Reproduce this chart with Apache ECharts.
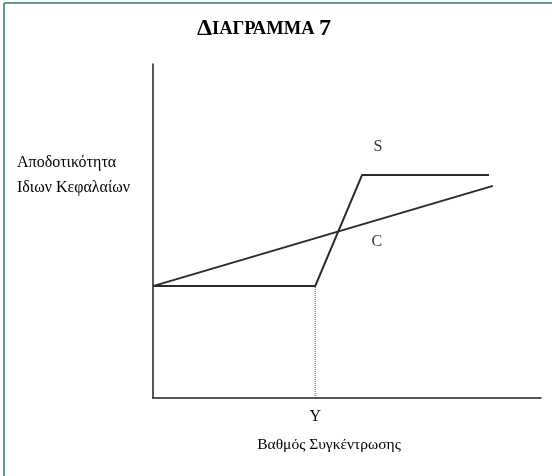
<!DOCTYPE html>
<html>
<head>
<meta charset="utf-8">
<script src="https://cdn.jsdelivr.net/npm/echarts@6/dist/echarts.min.js"></script>
<style>
html,body{margin:0;padding:0;background:#fff;}
#chart{width:552px;height:476px;}
</style>
</head>
<body>
<div id="chart"></div>
<script>
// Curve S (stepped) and line C, in abstract units (0-100)
var sX = [0, 41.8, 53.9, 86.6];
var sY = [33.5, 33.5, 66.8, 66.8];
var cX = [0, 87.6];
var cY = [33.5, 63.5];
// Marker Y on the horizontal axis
var markYX = 41.8;
var markYLabel = 'Y';
// Curve labels
var curveLabels = ['S', 'C'];
var curveLabelX = [58, 57.7];
var curveLabelY = [75.2, 46.8];

var FONT = '"Liberation Serif", "DejaVu Serif", serif';

function pairs(xs, ys) { return xs.map(function (x, i) { return [x, ys[i]]; }); }

var chart = echarts.init(document.getElementById('chart'));
chart.setOption({
  backgroundColor: '#fff',
  animation: false,
  grid: { left: 153, top: 64, width: 388, height: 334, containLabel: false },
  xAxis: {
    type: 'value', min: 0, max: 100,
    axisLine: { show: true, lineStyle: { color: '#222', width: 1.5 } },
    axisTick: { show: false },
    splitLine: { show: false },
    axisLabel: {
      show: true, customValues: [markYX], margin: 11,
      formatter: function () { return markYLabel; },
      fontFamily: FONT, fontSize: 16, color: '#000'
    }
  },
  yAxis: {
    type: 'value', min: 0, max: 100,
    axisLine: { show: true, lineStyle: { color: '#222', width: 1.5 } },
    axisTick: { show: false },
    splitLine: { show: false },
    axisLabel: { show: false }
  },
  series: [
    {
      type: 'line', data: pairs(sX, sY), symbol: 'none',
      lineStyle: { color: '#2a2a2a', width: 2 }
    },
    {
      type: 'line', data: pairs(cX, cY), symbol: 'none',
      lineStyle: { color: '#2a2a2a', width: 2 }
    },
    {
      type: 'line', data: [[markYX, 0], [markYX, sY[1]]], symbol: 'none',
      lineStyle: { color: '#555', width: 1, type: [1, 1] }
    },
    {
      type: 'scatter', symbolSize: 0,
      data: curveLabels.map(function (n, i) { return { value: [curveLabelX[i], curveLabelY[i]], name: n }; }),
      label: {
        show: true, position: 'inside', formatter: '{b}',
        fontFamily: FONT, fontSize: 16, color: '#000'
      }
    }
  ],
  graphic: [
    { type: 'line', shape: { x1: 4, y1: 3, x2: 552, y2: 3 }, style: { stroke: '#5f9b85', lineWidth: 2 } },
    { type: 'line', shape: { x1: 4, y1: 3, x2: 4, y2: 476 }, style: { stroke: '#5f9b85', lineWidth: 2 } },
    {
      type: 'text', x: 264, y: 29,
      style: {
        text: '{a|Δ}{b|ΙΑΓΡΑΜΜΑ }{a|7}', align: 'center', verticalAlign: 'middle',
        rich: {
          a: { fontFamily: FONT, fontWeight: 'bold', fontSize: 24, fill: '#000' },
          b: { fontFamily: FONT, fontWeight: 'bold', fontSize: 18.5, fill: '#000' }
        }
      }
    },
    {
      type: 'text', left: 17, top: 155,
      style: { text: 'Αποδοτικότητα', fontFamily: FONT, fontSize: 16, fill: '#000' }
    },
    {
      type: 'text', left: 17, top: 180,
      style: { text: 'Ιδιων Κεφαλαίων', fontFamily: FONT, fontSize: 16, fill: '#000' }
    },
    {
      type: 'text', x: 329, y: 445,
      style: { text: 'Βαθμός Συγκέντρωσης', fontFamily: FONT, fontSize: 15.5, fill: '#000', align: 'center', verticalAlign: 'middle' }
    }
  ]
});
</script>
</body>
</html>
